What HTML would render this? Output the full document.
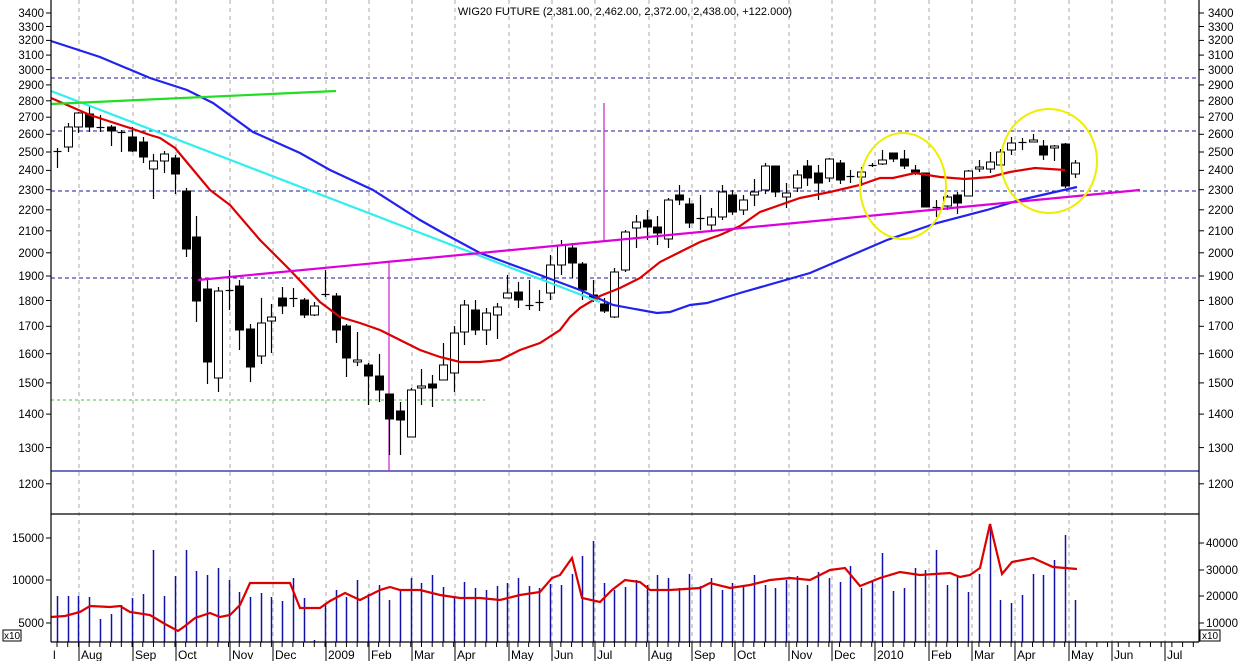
<!DOCTYPE html>
<html><head><meta charset="utf-8"><style>
html,body{margin:0;padding:0;background:#fff;}
svg{display:block;font-family:"Liberation Sans",sans-serif;font-size:12px;}
</style></head><body>
<svg id="s" width="1250" height="661" xmlns="http://www.w3.org/2000/svg">
<rect width="1250" height="661" fill="#fff"/>
<g id="grid" stroke="#aaa" stroke-dasharray="4,4" stroke-width="1"></g>
<g stroke="#1a1aa0" stroke-dasharray="4,3" stroke-width="1">
<line x1="51" y1="78" x2="1199" y2="78"/>
<line x1="51" y1="131" x2="1199" y2="131"/>
<line x1="51" y1="191" x2="1199" y2="191"/>
<line x1="51" y1="278" x2="1199" y2="278"/>
</g>
<line x1="51" y1="400" x2="485" y2="400" stroke="#3c3" stroke-dasharray="3,3"/>
<line x1="51" y1="471" x2="1199" y2="471" stroke="#1a1aa0" stroke-width="1.2"/>
<line x1="389" y1="262" x2="389" y2="471" stroke="#c3c" stroke-width="1.3"/>
<line x1="604" y1="103" x2="604" y2="242" stroke="#c3c" stroke-width="1.3"/>
<g id="candles"></g>
<polyline fill="none" stroke="#22e" stroke-width="2.2" points="51,41 100,57 150,78 187,90 213,103 253,132 300,153 330,170 373,190 420,220 443,233 480,253 540,275 580,290 613,305 657,313 670,312 690,305 707,303 740,293 810,273 887,240 937,223 987,210 1020,200 1077,187"/>
<polyline fill="none" stroke="#d00" stroke-width="2.2" points="51,98 90,115 130,128 150,135 160,138 175,148 185,160 200,178 210,190 230,205 260,240 290,270 320,302 340,317 360,323 380,330 400,340 420,350 440,357 460,362 480,362 500,360 520,350 540,343 560,330 570,317 580,308 600,296 620,288 640,278 660,262 680,252 700,242 720,235 740,226 760,212 780,205 800,198 830,192 860,185 880,178 893,178 915,173 940,177 965,179 990,177 1010,172 1035,168 1065,170"/>
<line x1="51" y1="91" x2="600" y2="302" stroke="#3ee" stroke-width="2.2"/>
<line x1="51" y1="104" x2="336" y2="91" stroke="#2d2" stroke-width="2.2"/>
<line x1="198" y1="280" x2="1140" y2="190" stroke="#d0d" stroke-width="2.2"/>
<ellipse cx="903" cy="186" rx="43" ry="53" fill="none" stroke="#ee0" stroke-width="2"/>
<ellipse cx="1049" cy="161" rx="48" ry="52" fill="none" stroke="#ee0" stroke-width="2"/>
<g id="bars" stroke="#11a" stroke-width="1.5"></g>
<polyline fill="none" stroke="#d00" stroke-width="2.2" points="51,617 65,616 80,612 90,606 110,607 120,606 130,612 150,615 165,624 178,631 185,626 195,618 210,613 220,617 230,615 240,605 250,583 290,583 300,608 320,608 330,601 345,593 360,600 380,590 390,587 400,590 420,590 440,595 460,598 480,598 500,600 520,595 540,592 552,578 560,575 572,558 582,598 600,602 612,590 625,580 640,582 650,590 670,590 700,588 710,583 730,588 750,585 770,580 790,578 810,580 830,570 845,568 860,586 880,578 900,572 920,575 950,573 960,577 970,575 980,568 990,524 1002,574 1012,562 1033,558 1053,567 1077,569"/>
<g stroke="#000" stroke-width="1.2">
<line x1="51" y1="0" x2="51" y2="642"/>
<line x1="1199" y1="0" x2="1199" y2="642"/>
<line x1="51" y1="514" x2="1199" y2="514"/>
<line x1="51" y1="642" x2="1199" y2="642"/>
</g>
<g id="ticks" stroke="#000" stroke-width="1"></g>
<text x="625" y="15" text-anchor="middle" font-size="11">WIG20 FUTURE (2,381.00, 2,462.00, 2,372.00, 2,438.00, +122.000)</text>
<g text-anchor="end" font-size="11.5">
<text x="44" y="17">3400</text><text x="44" y="31">3300</text><text x="44" y="44">3200</text><text x="44" y="59">3100</text><text x="44" y="74">3000</text><text x="44" y="89">2900</text><text x="44" y="105">2800</text><text x="44" y="121">2700</text><text x="44" y="138">2600</text><text x="44" y="156">2500</text><text x="44" y="174">2400</text><text x="44" y="194">2300</text><text x="44" y="214">2200</text><text x="44" y="235">2100</text><text x="44" y="257">2000</text><text x="44" y="280">1900</text><text x="44" y="305">1800</text><text x="44" y="330">1700</text><text x="44" y="358">1600</text><text x="44" y="387">1500</text><text x="44" y="418">1400</text><text x="44" y="452">1300</text><text x="44" y="488">1200</text>
<text x="44" y="542">15000</text><text x="44" y="584">10000</text><text x="44" y="627">5000</text>
</g>
<g font-size="11.5">
<text x="1208" y="17">3400</text><text x="1208" y="31">3300</text><text x="1208" y="44">3200</text><text x="1208" y="59">3100</text><text x="1208" y="74">3000</text><text x="1208" y="89">2900</text><text x="1208" y="105">2800</text><text x="1208" y="121">2700</text><text x="1208" y="138">2600</text><text x="1208" y="156">2500</text><text x="1208" y="174">2400</text><text x="1208" y="194">2300</text><text x="1208" y="214">2200</text><text x="1208" y="235">2100</text><text x="1208" y="257">2000</text><text x="1208" y="280">1900</text><text x="1208" y="305">1800</text><text x="1208" y="330">1700</text><text x="1208" y="358">1600</text><text x="1208" y="387">1500</text><text x="1208" y="418">1400</text><text x="1208" y="452">1300</text><text x="1208" y="488">1200</text>
<text x="1206" y="547">40000</text><text x="1206" y="574">30000</text><text x="1206" y="600">20000</text><text x="1206" y="627">10000</text>
</g>
<g font-size="10"><rect x="3" y="630" width="18" height="11" fill="none" stroke="#000"/><text x="4" y="639">x10</text>
<rect x="1200" y="630" width="20" height="11" fill="none" stroke="#000"/><text x="1202" y="639">x10</text></g>
<g font-size="12">
<text x="53" y="659">l</text><text x="81" y="659">Aug</text><text x="135" y="659">Sep</text><text x="178" y="659">Oct</text><text x="232" y="659">Nov</text><text x="275" y="659">Dec</text><text x="328" y="659">2009</text><text x="371" y="659">Feb</text><text x="414" y="659">Mar</text><text x="457" y="659">Apr</text><text x="511" y="659">May</text><text x="554" y="659">Jun</text><text x="597" y="659">Jul</text><text x="651" y="659">Aug</text><text x="694" y="659">Sep</text><text x="737" y="659">Oct</text><text x="791" y="659">Nov</text><text x="834" y="659">Dec</text><text x="877" y="659">2010</text><text x="931" y="659">Feb</text><text x="974" y="659">Mar</text><text x="1017" y="659">Apr</text><text x="1071" y="659">May</text><text x="1114" y="659">Jun</text><text x="1167" y="659">Jul</text>
</g>
</svg>
<script>
var NS="http://www.w3.org/2000/svg";
function el(p,t,a){var e=document.createElementNS(NS,t);for(var k in a)e.setAttribute(k,a[k]);p.appendChild(e);return e;}
var months=[79,133,176,230,273,326,369,412,455,509,552,595,649,692,735,789,832,875,929,972,1015,1069,1112,1165];
var g=document.getElementById('grid');
months.forEach(function(x){el(g,'line',{x1:x,y1:0,x2:x,y2:642});});
var tk=document.getElementById('ticks');
months.forEach(function(x){el(tk,'line',{x1:x,y1:642,x2:x,y2:661});});
for(var i=0;i<107;i++){var x=57+i*10.72;el(tk,'line',{x1:x,y1:642,x2:x,y2:647});}
[13,26.5,40.4,55.1,69.6,84.9,100.8,117.2,134.3,152,170.4,189.7,209.8,230.8,252.8,276,300.5,326.3,353.7,382.9,414.1,447.6,483.8].forEach(function(y){el(tk,'line',{x1:46,y1:y,x2:51,y2:y});el(tk,'line',{x1:1199,y1:y,x2:1204,y2:y});});
[538,580,623].forEach(function(y){el(tk,'line',{x1:46,y1:y,x2:51,y2:y});});
[543,570,596,623].forEach(function(y){el(tk,'line',{x1:1199,y1:y,x2:1204,y2:y});});
var C=[[148,168,151,151,0],[123,152,127,147,0],[112,133,113,127,0],[105,132,114,127,1],[115,132,127,127,0],[125,146,127,131,1],[130,152,132,132,0],[127,152,137,151,1],[137,163,142,157,1],[154,199,161,169,0],[151,173,154,161,0],[155,194,158,174,1],[188,257,191,249,1],[216,322,237,301,1],[280,384,289,362,1],[287,392,291,378,0],[270,310,290,290,0],[280,350,286,330,1],[324,382,329,367,1],[298,364,323,356,0],[304,353,317,321,0],[287,314,298,306,1],[288,307,298,298,0],[298,318,300,315,1],[302,316,306,315,0],[270,297,294,294,0],[293,343,296,330,1],[324,377,326,358,1],[332,366,360,362,0],[363,405,365,376,1],[354,402,376,390,1],[394,455,394,419,1],[402,455,411,420,1],[388,437,390,437,0],[369,405,386,388,0],[375,407,384,388,1],[343,378,365,380,0],[326,392,333,373,0],[300,345,305,332,0],[300,335,310,330,1],[308,345,313,330,0],[303,339,307,315,0],[275,298,293,298,0],[282,308,292,300,1],[280,310,305,305,0],[290,311,302,302,0],[255,300,265,293,0],[240,275,245,265,0],[243,278,248,263,1],[262,300,264,290,1],[280,302,295,299,1],[298,313,304,311,1],[268,318,272,317,0],[230,272,232,270,0],[215,248,222,228,0],[210,240,220,227,1],[216,245,227,233,1],[198,248,200,239,0],[185,205,195,200,1],[198,228,204,223,1],[195,230,218,218,0],[208,232,217,225,0],[185,220,192,217,0],[190,215,195,212,1],[195,215,200,210,0],[179,206,192,195,0],[163,194,166,190,0],[166,197,166,192,1],[183,208,193,197,0],[170,192,175,188,0],[160,186,166,178,1],[165,200,173,183,1],[158,182,159,178,0],[160,184,163,180,1],[170,183,176,176,0],[167,186,172,177,0],[163,167,165,165,0],[150,165,160,164,0],[153,162,153,159,1],[150,169,159,166,1],[165,175,170,172,1],[173,207,173,207,1],[200,217,207,207,0],[195,210,197,206,0],[192,214,195,203,1],[170,196,171,196,0],[160,172,167,169,0],[152,173,162,169,0],[149,165,152,165,0],[137,155,143,150,0],[138,150,142,142,0],[134,142,140,142,0],[140,160,146,155,1],[145,161,146,148,0],[143,188,144,186,1],[160,178,163,174,0]];
var cg=document.getElementById('candles');
C.forEach(function(c,i){var x=Math.round(57+i*10.72)+0.5;
el(cg,'line',{x1:x,y1:c[0],x2:x,y2:c[1],stroke:'#000','stroke-width':1.2});
if(c[3]-c[2]<1.5){el(cg,'line',{x1:x-4,y1:c[2]+0.5,x2:x+4,y2:c[2]+0.5,stroke:'#000','stroke-width':1.2});}
else el(cg,'rect',{x:x-4,y:c[2],width:8,height:c[3]-c[2],fill:c[4]?'#000':'#fff',stroke:'#000','stroke-width':1});});
var V=[596,596,596,597,619,614,605,598,594,550,596,576,550,571,575,568,580,592,597,593,597,601,578,598,640,603,590,597,580,594,585,600,590,578,583,575,587,596,582,588,590,586,583,578,586,588,584,585,574,556,541,583,590,587,580,585,575,578,588,574,586,578,590,583,585,575,585,588,580,576,585,572,578,582,566,588,582,553,591,588,568,570,550,585,577,592,574,524,600,603,595,574,575,560,535,600];
var bg=document.getElementById('bars');
V.forEach(function(v,i){var x=Math.round(57+i*10.72)+0.5;el(bg,'line',{x1:x,y1:v,x2:x,y2:642});});
</script>
</body></html>
